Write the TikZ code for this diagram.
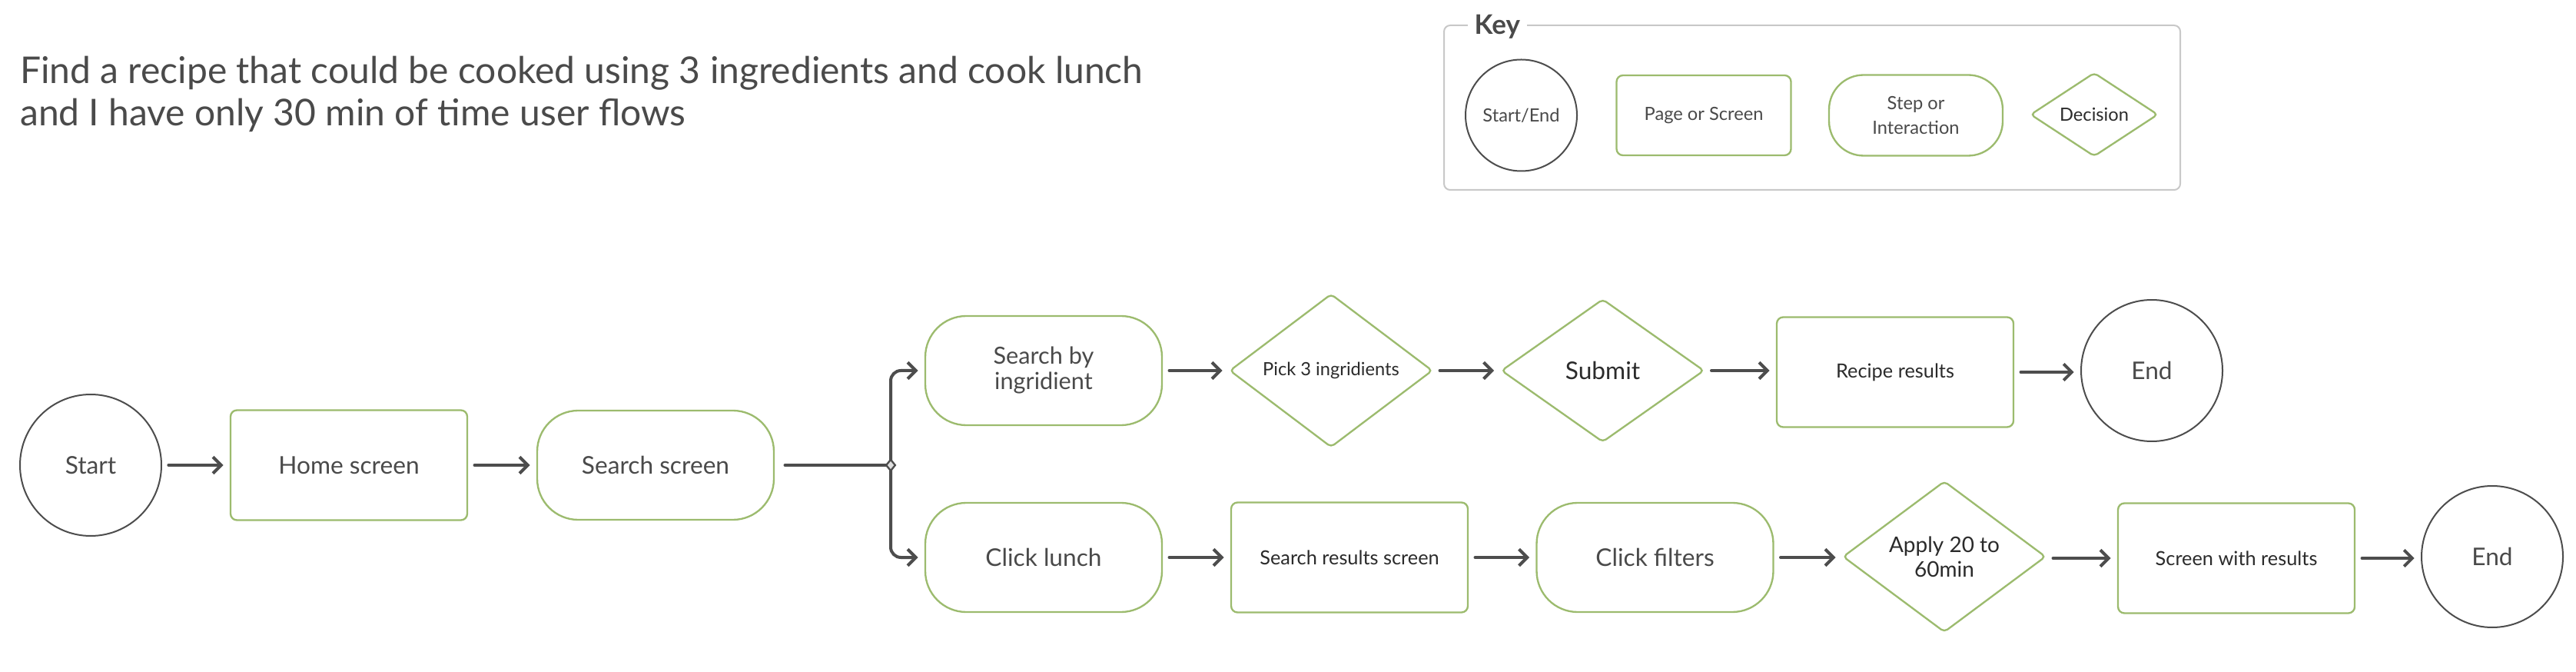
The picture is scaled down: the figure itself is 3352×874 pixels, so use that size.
\documentclass[tikz,border=0pt]{standalone}
\usepackage{fontspec}
\setmainfont{Lato}
\usetikzlibrary{shapes.geometric,arrows.meta}
\definecolor{grn}{HTML}{9CBB6E}
\definecolor{txt}{HTML}{4A4A4A}
\definecolor{dtxt}{HTML}{2B2B2B}
\definecolor{ln}{HTML}{4D4D4D}
\definecolor{keyframe}{HTML}{C8C8C8}
\tikzset{
  pagebox/.style={rectangle, rounded corners=2.5pt, draw=grn, line width=0.7pt, minimum width=92.4pt, minimum height=42.9pt, inner sep=0pt, align=center},
  stepbox/.style={rectangle, rounded corners=16pt, draw=grn, line width=0.7pt, minimum width=92.4pt, minimum height=42.6pt, inner sep=0pt, align=center, text=txt},
  decbox/.style={diamond, rounded corners=1.5pt, draw=grn, line width=0.7pt, minimum width=79.2pt, minimum height=55.8pt, inner sep=0pt, align=center, text=dtxt},
  termbox/.style={circle, draw=ln, line width=0.6pt, minimum size=55.2pt, inner sep=0pt, text=txt},
  flow/.style={draw=ln, line width=1.2pt, line cap=round, -{Straight Barb[length=3.2pt,width=6.4pt,line width=1.2pt]}, shorten <=2.5pt, shorten >=2.5pt},
  plainline/.style={draw=ln, line width=1.2pt, line cap=round},
  fbig/.style={font=\fontsize{9.5pt}{9.9pt}\selectfont},
  fmid/.style={font=\fontsize{7.6pt}{9pt}\selectfont},
  fsmall/.style={font=\fontsize{7.1pt}{9pt}\selectfont},
  fkey/.style={font=\fontsize{7.1pt}{9.7pt}\selectfont},
}
\begin{document}
\begin{tikzpicture}[x=0.3pt,y=-0.3pt]
\useasboundingbox[fill=white] (0,0) rectangle (3352,874);

% title
\node[anchor=base west, align=left, inner sep=0pt, text=txt, font=\fontsize{14.4pt}{16.5pt}\selectfont] (title) at (25.5,163.3)
  {Find a recipe that could be cooked using 3 ingredients and cook lunch\\and I have only 30 min of time user flows};

% key
\draw[draw=keyframe, line width=0.6pt, rounded corners=2.4pt] (1879,33) rectangle (2837,247);
\node[fill=white, inner xsep=2.7pt, inner ysep=1pt, anchor=base west, text=txt, font=\fontsize{10.5pt}{12pt}\selectfont\bfseries] (keytitle) at (1909,45) {Key};
\node[termbox, minimum size=43.5pt, fkey] (kse) at (1979.5,150) {Start/End};
\node[pagebox, minimum width=68.1pt, minimum height=31.2pt, text=txt, fkey] (kpage) at (2217,150) {Page or Screen};
\node[stepbox, minimum width=67.8pt, minimum height=31.5pt, rounded corners=13.5pt, fkey] (kstep) at (2493,150) {Step or\\Interaction};
\node[decbox, minimum width=49.8pt, minimum height=32.7pt, fkey] (kdec) at (2725,149) {Decision};

% main flow
\node[termbox, fbig] (start) at (118,605) {Start};
\node[pagebox, text=txt, fbig] (home) at (454,605) {Home screen};
\node[stepbox, fbig] (search) at (853,605) {Search screen};

\node[stepbox, font=\fontsize{9.2pt}{9.9pt}\selectfont] (sbi) at (1358,482) {Search by\\ingridient};
\node[decbox, fsmall] (pick) at (1732,482) {Pick 3 ingridients};
\node[decbox, fbig] (submit) at (2085.5,482) {Submit};
\node[pagebox, text=dtxt, fmid] (recipe) at (2466,484) {Recipe results};
\node[termbox, fbig] (end1) at (2800,482) {End};

\node[stepbox, fbig] (lunch) at (1358,725) {Click lunch};
\node[pagebox, text=dtxt, fmid] (srs) at (1756,725) {Search results screen};
\node[stepbox, fbig] (filters) at (2153.5,725) {Click filters};
\node[decbox, font=\fontsize{8.4pt}{9.5pt}\selectfont] (apply) at (2530,724) {Apply 20 to\\60min};
\node[pagebox, text=dtxt, fmid] (swr) at (2910,726) {Screen with results};
\node[termbox, fbig] (end2) at (3243,724) {End};

% connectors
\draw[flow] (start) -- (home);
\draw[flow] (home) -- (search);
\coordinate (br) at (1159,605);
\draw[plainline, shorten <=4pt] (search.east) -- (br);
\draw[flow, rounded corners=4pt, shorten <=0pt] (br) |- (sbi.west);
\draw[flow, rounded corners=4pt, shorten <=0pt] (br) |- (lunch.west);
\node[diamond, draw=ln, fill=gray!25, line width=0.7pt, minimum width=3.8pt, minimum height=4.6pt, inner sep=0pt] (brd) at (br) {};

\draw[flow] (sbi) -- (pick);
\draw[flow] (pick) -- (submit);
\draw[flow] (submit) -- (recipe.west |- submit);
\draw[flow] (recipe) -- (end1.west |- recipe);

\draw[flow] (lunch) -- (srs);
\draw[flow] (srs) -- (filters);
\draw[flow] (filters) -- (apply.west |- filters);
\draw[flow] (apply.east |- swr) -- (swr);
\draw[flow] (swr) -- (end2.west |- swr);
\end{tikzpicture}
\end{document}
